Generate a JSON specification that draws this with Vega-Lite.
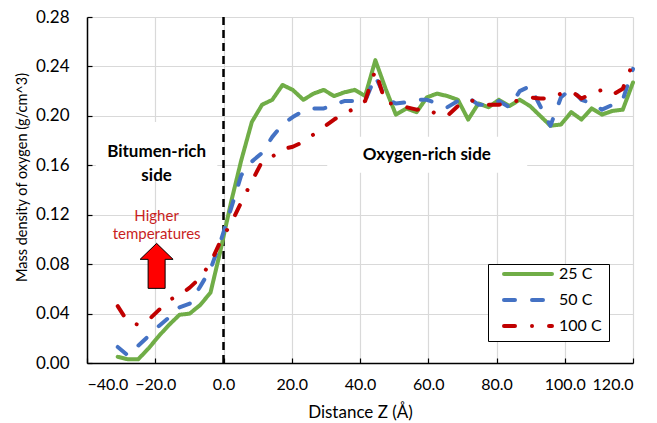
{
  "$schema": "https://vega.github.io/schema/vega-lite/v6.json",
  "width": 546,
  "height": 346,
  "autosize": {"type": "none"},
  "padding": {"left": 87, "top": 17, "right": 24, "bottom": 60},
  "background": "white",
  "config": {
    "font": "Lato",
    "view": {"stroke": null},
    "axis": {
      "gridColor": "#D9D9D9",
      "gridWidth": 1.2,
      "domainColor": "#000000",
      "domainWidth": 1.5,
      "tickColor": "#000000",
      "tickWidth": 1.2,
      "tickSize": -5,
      "labelColor": "#000000",
      "labelFontSize": 16,
      "titleColor": "#000000",
      "titleFontSize": 17,
      "titleFontWeight": "normal"
    }
  },
  "datasets": {
    "lines": [
      {"x": -31.0, "series": "25 C", "y": 0.005}, {"x": -28.0, "series": "25 C", "y": 0.003}, {"x": -25.0, "series": "25 C", "y": 0.003}, {"x": -21.9, "series": "25 C", "y": 0.012}, {"x": -18.9, "series": "25 C", "y": 0.022}, {"x": -15.9, "series": "25 C", "y": 0.031}, {"x": -12.9, "series": "25 C", "y": 0.039}, {"x": -9.9, "series": "25 C", "y": 0.040}, {"x": -6.8, "series": "25 C", "y": 0.047}, {"x": -3.8, "series": "25 C", "y": 0.057}, {"x": -0.8, "series": "25 C", "y": 0.092}, {"x": 2.2, "series": "25 C", "y": 0.130}, {"x": 5.2, "series": "25 C", "y": 0.164}, {"x": 8.3, "series": "25 C", "y": 0.195}, {"x": 11.3, "series": "25 C", "y": 0.209}, {"x": 14.3, "series": "25 C", "y": 0.213}, {"x": 17.3, "series": "25 C", "y": 0.225}, {"x": 20.3, "series": "25 C", "y": 0.221}, {"x": 23.4, "series": "25 C", "y": 0.213}, {"x": 26.4, "series": "25 C", "y": 0.218}, {"x": 29.4, "series": "25 C", "y": 0.221}, {"x": 32.4, "series": "25 C", "y": 0.216}, {"x": 35.4, "series": "25 C", "y": 0.219}, {"x": 38.5, "series": "25 C", "y": 0.221}, {"x": 41.5, "series": "25 C", "y": 0.216}, {"x": 44.5, "series": "25 C", "y": 0.245}, {"x": 47.5, "series": "25 C", "y": 0.222}, {"x": 50.5, "series": "25 C", "y": 0.201}, {"x": 53.6, "series": "25 C", "y": 0.206}, {"x": 56.6, "series": "25 C", "y": 0.203}, {"x": 59.6, "series": "25 C", "y": 0.215}, {"x": 62.6, "series": "25 C", "y": 0.218}, {"x": 65.6, "series": "25 C", "y": 0.216}, {"x": 68.7, "series": "25 C", "y": 0.213}, {"x": 71.7, "series": "25 C", "y": 0.197}, {"x": 74.7, "series": "25 C", "y": 0.210}, {"x": 77.7, "series": "25 C", "y": 0.207}, {"x": 80.7, "series": "25 C", "y": 0.213}, {"x": 83.8, "series": "25 C", "y": 0.208}, {"x": 86.8, "series": "25 C", "y": 0.213}, {"x": 89.8, "series": "25 C", "y": 0.208}, {"x": 92.8, "series": "25 C", "y": 0.200}, {"x": 95.8, "series": "25 C", "y": 0.192}, {"x": 98.9, "series": "25 C", "y": 0.193}, {"x": 101.9, "series": "25 C", "y": 0.203}, {"x": 104.9, "series": "25 C", "y": 0.197}, {"x": 107.9, "series": "25 C", "y": 0.206}, {"x": 110.9, "series": "25 C", "y": 0.201}, {"x": 114.0, "series": "25 C", "y": 0.204}, {"x": 117.0, "series": "25 C", "y": 0.205}, {"x": 120.0, "series": "25 C", "y": 0.227},
      {"x": -31.0, "series": "50 C", "y": 0.013}, {"x": -28.0, "series": "50 C", "y": 0.006}, {"x": -25.0, "series": "50 C", "y": 0.014}, {"x": -21.9, "series": "50 C", "y": 0.022}, {"x": -18.9, "series": "50 C", "y": 0.030}, {"x": -15.9, "series": "50 C", "y": 0.037}, {"x": -12.9, "series": "50 C", "y": 0.045}, {"x": -9.9, "series": "50 C", "y": 0.048}, {"x": -6.8, "series": "50 C", "y": 0.062}, {"x": -3.8, "series": "50 C", "y": 0.076}, {"x": -0.8, "series": "50 C", "y": 0.099}, {"x": 2.2, "series": "50 C", "y": 0.125}, {"x": 5.2, "series": "50 C", "y": 0.152}, {"x": 8.3, "series": "50 C", "y": 0.163}, {"x": 11.3, "series": "50 C", "y": 0.170}, {"x": 14.3, "series": "50 C", "y": 0.183}, {"x": 17.3, "series": "50 C", "y": 0.193}, {"x": 20.3, "series": "50 C", "y": 0.199}, {"x": 23.4, "series": "50 C", "y": 0.204}, {"x": 26.4, "series": "50 C", "y": 0.206}, {"x": 29.4, "series": "50 C", "y": 0.206}, {"x": 32.4, "series": "50 C", "y": 0.209}, {"x": 35.4, "series": "50 C", "y": 0.212}, {"x": 38.5, "series": "50 C", "y": 0.212}, {"x": 41.5, "series": "50 C", "y": 0.212}, {"x": 44.5, "series": "50 C", "y": 0.232}, {"x": 47.5, "series": "50 C", "y": 0.214}, {"x": 50.5, "series": "50 C", "y": 0.210}, {"x": 53.6, "series": "50 C", "y": 0.211}, {"x": 56.6, "series": "50 C", "y": 0.213}, {"x": 59.6, "series": "50 C", "y": 0.213}, {"x": 62.6, "series": "50 C", "y": 0.210}, {"x": 65.6, "series": "50 C", "y": 0.207}, {"x": 68.7, "series": "50 C", "y": 0.212}, {"x": 71.7, "series": "50 C", "y": 0.215}, {"x": 74.7, "series": "50 C", "y": 0.209}, {"x": 77.7, "series": "50 C", "y": 0.209}, {"x": 80.7, "series": "50 C", "y": 0.212}, {"x": 83.8, "series": "50 C", "y": 0.207}, {"x": 86.8, "series": "50 C", "y": 0.220}, {"x": 89.8, "series": "50 C", "y": 0.224}, {"x": 92.8, "series": "50 C", "y": 0.208}, {"x": 95.8, "series": "50 C", "y": 0.192}, {"x": 98.9, "series": "50 C", "y": 0.215}, {"x": 101.9, "series": "50 C", "y": 0.222}, {"x": 104.9, "series": "50 C", "y": 0.213}, {"x": 107.9, "series": "50 C", "y": 0.210}, {"x": 110.9, "series": "50 C", "y": 0.205}, {"x": 114.0, "series": "50 C", "y": 0.209}, {"x": 117.0, "series": "50 C", "y": 0.213}, {"x": 120.0, "series": "50 C", "y": 0.238},
      {"x": -31.0, "series": "100 C", "y": 0.046}, {"x": -28.0, "series": "100 C", "y": 0.033}, {"x": -25.0, "series": "100 C", "y": 0.031}, {"x": -21.9, "series": "100 C", "y": 0.035}, {"x": -18.9, "series": "100 C", "y": 0.043}, {"x": -15.9, "series": "100 C", "y": 0.051}, {"x": -12.9, "series": "100 C", "y": 0.055}, {"x": -9.9, "series": "100 C", "y": 0.061}, {"x": -6.8, "series": "100 C", "y": 0.069}, {"x": -3.8, "series": "100 C", "y": 0.081}, {"x": -0.8, "series": "100 C", "y": 0.099}, {"x": 2.2, "series": "100 C", "y": 0.113}, {"x": 5.2, "series": "100 C", "y": 0.130}, {"x": 8.3, "series": "100 C", "y": 0.147}, {"x": 11.3, "series": "100 C", "y": 0.163}, {"x": 14.3, "series": "100 C", "y": 0.167}, {"x": 17.3, "series": "100 C", "y": 0.173}, {"x": 20.3, "series": "100 C", "y": 0.175}, {"x": 23.4, "series": "100 C", "y": 0.179}, {"x": 26.4, "series": "100 C", "y": 0.185}, {"x": 29.4, "series": "100 C", "y": 0.191}, {"x": 32.4, "series": "100 C", "y": 0.197}, {"x": 35.4, "series": "100 C", "y": 0.202}, {"x": 38.5, "series": "100 C", "y": 0.206}, {"x": 41.5, "series": "100 C", "y": 0.212}, {"x": 44.5, "series": "100 C", "y": 0.237}, {"x": 47.5, "series": "100 C", "y": 0.210}, {"x": 50.5, "series": "100 C", "y": 0.210}, {"x": 53.6, "series": "100 C", "y": 0.207}, {"x": 56.6, "series": "100 C", "y": 0.205}, {"x": 59.6, "series": "100 C", "y": 0.206}, {"x": 62.6, "series": "100 C", "y": 0.201}, {"x": 65.6, "series": "100 C", "y": 0.200}, {"x": 68.7, "series": "100 C", "y": 0.208}, {"x": 71.7, "series": "100 C", "y": 0.213}, {"x": 74.7, "series": "100 C", "y": 0.211}, {"x": 77.7, "series": "100 C", "y": 0.209}, {"x": 80.7, "series": "100 C", "y": 0.209}, {"x": 83.8, "series": "100 C", "y": 0.210}, {"x": 86.8, "series": "100 C", "y": 0.213}, {"x": 89.8, "series": "100 C", "y": 0.215}, {"x": 92.8, "series": "100 C", "y": 0.214}, {"x": 95.8, "series": "100 C", "y": 0.214}, {"x": 98.9, "series": "100 C", "y": 0.218}, {"x": 101.9, "series": "100 C", "y": 0.220}, {"x": 104.9, "series": "100 C", "y": 0.214}, {"x": 107.9, "series": "100 C", "y": 0.218}, {"x": 110.9, "series": "100 C", "y": 0.221}, {"x": 114.0, "series": "100 C", "y": 0.217}, {"x": 117.0, "series": "100 C", "y": 0.222}, {"x": 120.0, "series": "100 C", "y": 0.243}
    ],
    "boxes": [
      {"x": -37.4, "x2": -1.8, "y": 0.148, "y2": 0.195},
      {"x": 30.4, "x2": 89.0, "y": 0.154, "y2": 0.183}
    ],
    "labels": [
      {"x": -19.6, "y": 0.171, "text": "Bitumen-rich\nside"},
      {"x": 59.6, "y": 0.168, "text": "Oxygen-rich side"}
    ],
    "redlabels": [
      {"x": -19.6, "y": 0.119, "text": "Higher\ntemperatures"}
    ],
    "arrow": [{"x": -19.6, "y": 0.0786}],
    "divider": [{"x": 0}]
  },
  "layer": [
    {
      "data": {"name": "divider"},
      "mark": {"type": "rule", "color": "#000000", "strokeWidth": 2.5, "strokeDash": [8, 5]},
      "encoding": {
        "x": {"field": "x", "type": "quantitative", "scale": {"domain": [-40, 120], "nice": false, "zero": false}}
      }
    },
    {
      "data": {"name": "lines"},
      "mark": {"type": "line", "strokeWidth": 4, "strokeCap": "round", "strokeJoin": "round"},
      "encoding": {
        "x": {
          "field": "x", "type": "quantitative",
          "scale": {"domain": [-40, 120], "nice": false, "zero": false},
          "axis": {
            "values": [-40, -20, 0, 20, 40, 60, 80, 100, 120],
            "format": ".1f",
            "title": "Distance Z (Å)",
            "labelPadding": 18,
            "titleX": 273,
            "titleY": 49,
            "titleAlign": "center",
            "titleBaseline": "middle"
          }
        },
        "y": {
          "field": "y", "type": "quantitative",
          "scale": {"domain": [0, 0.28], "nice": false},
          "axis": {
            "values": [0, 0.04, 0.08, 0.12, 0.16, 0.2, 0.24, 0.28],
            "format": ".2f",
            "title": "Mass density of oxygen (g/cm^3)",
            "titleFontSize": 14.5,
            "labelFontSize": 17,
            "labelPadding": 23,
            "titleX": -65,
            "titleY": 160,
            "titleAngle": 270,
            "titleAlign": "center",
            "titleBaseline": "middle"
          }
        },
        "color": {
          "field": "series", "type": "nominal",
          "scale": {"domain": ["25 C", "50 C", "100 C"], "range": ["#70AD47", "#4472C4", "#C00000"]},
          "legend": {
            "orient": "none", "legendX": 401, "legendY": 247, "title": null,
            "padding": 7, "strokeColor": "#000000", "fillColor": "#FFFFFF",
            "symbolType": "M-1,0H1", "symbolSize": 2304, "symbolStrokeWidth": 4,
            "clipHeight": 6, "rowPadding": 10, "labelFontSize": 16, "labelOffset": 5,
            "labelColor": "#000000", "symbolOffset": 7,
            "encode": {"symbols": {"update": {"strokeCap": {"value": "round"}}}}
          }
        },
        "strokeDash": {
          "field": "series", "type": "nominal",
          "scale": {"domain": ["25 C", "50 C", "100 C"], "range": [[1, 0], [11, 17], [11, 17, 0.01, 17]]},
          "legend": {
            "orient": "none", "legendX": 401, "legendY": 247, "title": null,
            "padding": 7, "strokeColor": "#000000", "fillColor": "#FFFFFF",
            "symbolType": "M-1,0H1", "symbolSize": 2304, "symbolStrokeWidth": 4,
            "clipHeight": 6, "rowPadding": 10, "labelFontSize": 16, "labelOffset": 5,
            "labelColor": "#000000", "symbolOffset": 7,
            "encode": {"symbols": {"update": {"strokeCap": {"value": "round"}}}}
          }
        }
      }
    },
    {
      "data": {"name": "boxes"},
      "mark": {"type": "rect", "fill": "#FFFFFF"},
      "encoding": {
        "x": {"field": "x", "type": "quantitative"},
        "x2": {"field": "x2"},
        "y": {"field": "y", "type": "quantitative"},
        "y2": {"field": "y2"}
      }
    },
    {
      "data": {"name": "labels"},
      "mark": {"type": "text", "fontSize": 17, "fontWeight": "bold", "color": "#000000", "lineBreak": "\n", "lineHeight": 24, "align": "center", "baseline": "middle"},
      "encoding": {
        "x": {"field": "x", "type": "quantitative"},
        "y": {"field": "y", "type": "quantitative"},
        "text": {"field": "text"}
      }
    },
    {
      "data": {"name": "redlabels"},
      "mark": {"type": "text", "fontSize": 15, "color": "#C81E1E", "lineBreak": "\n", "lineHeight": 18, "align": "center", "baseline": "middle"},
      "encoding": {
        "x": {"field": "x", "type": "quantitative"},
        "y": {"field": "y", "type": "quantitative"},
        "text": {"field": "text"}
      }
    },
    {
      "data": {"name": "arrow"},
      "mark": {"type": "point", "shape": "M0,-1L0.733,-0.29L0.378,-0.29L0.378,1L-0.378,1L-0.378,-0.29L-0.733,-0.29Z", "size": 2025, "filled": true, "fill": "#FF0000", "stroke": "#000000", "strokeWidth": 1, "opacity": 1},
      "encoding": {
        "x": {"field": "x", "type": "quantitative"},
        "y": {"field": "y", "type": "quantitative"}
      }
    }
  ]
}
